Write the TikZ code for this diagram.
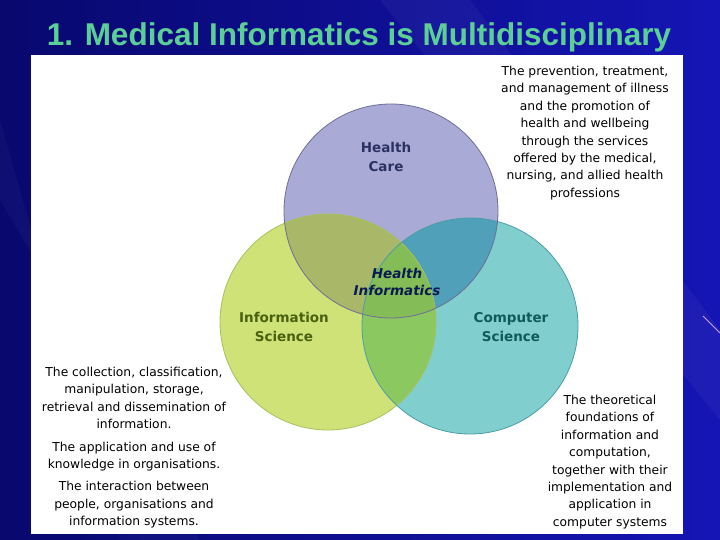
\documentclass[tikz,border=0pt]{standalone}
\usepackage{fontspec}
\setmainfont{DejaVu Sans}
\newfontfamily\titlefont{Liberation Sans}
\definecolor{bgL}{HTML}{08086E}
\definecolor{bgR}{HTML}{1515B5}
\definecolor{titlecol}{HTML}{5CCF96}
\definecolor{pcol}{HTML}{AAAAD6}
\definecolor{gcol}{HTML}{CEE278}
\definecolor{tcol}{HTML}{80CECE}
\definecolor{pgcol}{HTML}{A8B868}
\definecolor{ptcol}{HTML}{4FA0B8}
\definecolor{gtcol}{HTML}{8CC860}
\definecolor{allcol}{HTML}{84BC58}
\definecolor{pline}{HTML}{6E6E96}
\definecolor{gline}{HTML}{A8C060}
\definecolor{tline}{HTML}{4A9EA6}
\definecolor{hctext}{HTML}{2B3160}
\definecolor{istext}{HTML}{4A6010}
\definecolor{cstext}{HTML}{0F5A5A}
\definecolor{hitext}{HTML}{0A1A50}
\begin{document}
\begin{tikzpicture}[x=1pt,y=-1pt,
  desc/.style={align=center,inner sep=0pt,anchor=north,font=\fontsize{12.3}{17.4}\selectfont},
  lab/.style={align=center,inner sep=0pt,font=\fontsize{13.5}{18.5}\selectfont\bfseries}]
\useasboundingbox (0,0) rectangle (720,540);
\shade[left color=bgL, right color=bgR] (0,0) rectangle (720,540);
\fill[white,opacity=0.04] (380,0) -- (470,0) -- (720,330) -- (720,420) -- cycle;
\fill[white,opacity=0.03] (0,120) -- (0,200) -- (200,540) -- (120,540) -- cycle;
\draw[color={rgb,255:red,200;green,160;blue,230},line width=0.8pt] (703,316) -- (720,333);
\node[font=\titlefont\fontsize{31.5}{34}\selectfont\bfseries, text=titlecol, anchor=base] (title) at (359,46) {1. Medical Informatics is Multidisciplinary};
\fill[white] (31,55) rectangle (683,534);
\def\Pc{(391,211) circle [radius=107pt]}
\def\Gc{(328,322) circle [radius=108pt]}
\def\Tc{(470,326) circle [radius=108pt]}
\fill[gcol] \Gc;
\fill[tcol] \Tc;
\fill[pcol] \Pc;
\begin{scope}\clip \Pc; \fill[pgcol] \Gc; \fill[ptcol] \Tc; \end{scope}
\begin{scope}\clip \Gc; \fill[gtcol] \Tc; \end{scope}
\begin{scope}\clip \Pc; \clip \Gc; \fill[allcol] \Tc; \end{scope}
\draw[gline,line width=0.8pt] \Gc;
\draw[tline,line width=0.8pt] \Tc;
\draw[pline,line width=0.8pt] \Pc;
\node[lab,text=hctext] (hc) at (386,157) {Health\\Care};
\node[lab,text=istext] (is) at (284,327) {Information\\Science};
\node[lab,text=cstext] (cs) at (511,327) {Computer\\Science};
\node[lab,text=hitext,font=\fontsize{13.5}{17}\selectfont\bfseries\itshape] (hi) at (397,282) {Health\\Informatics};
\node[desc] (hcd) at (585,66) {The prevention, treatment,\\and management of illness\\and the promotion of\\health and wellbeing\\through the services\\offered by the medical,\\nursing, and allied health\\professions};
\node[desc] (isd) at (134,367) {The collection, classification,\\manipulation, storage,\\retrieval and dissemination of\\information.\\[5pt]The application and use of\\knowledge in organisations.\\[5pt]The interaction between\\people, organisations and\\information systems.};
\node[desc] (csd) at (610,395) {The theoretical\\foundations of\\information and\\computation,\\together with their\\implementation and\\application in\\computer systems};
\end{tikzpicture}
\end{document}
